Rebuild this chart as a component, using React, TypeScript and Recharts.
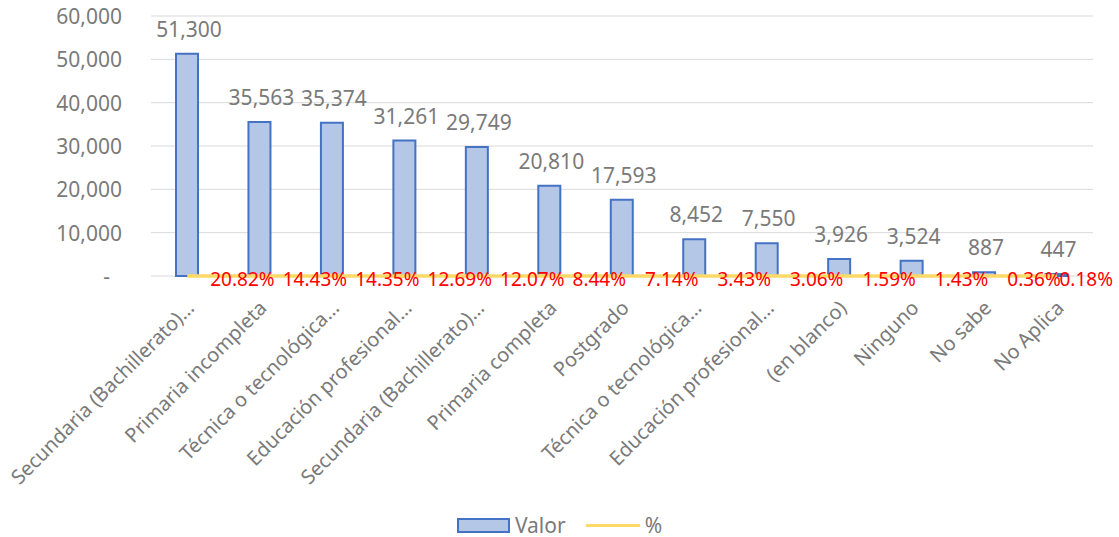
import {
  Bar,
  CartesianGrid,
  ComposedChart,
  LabelList,
  Legend,
  Line,
  XAxis,
  YAxis,
} from "recharts";

const categories = [
  "Secundaria (Bachillerato)…",
  "Primaria incompleta",
  "Técnica o tecnológica…",
  "Educación profesional…",
  "Secundaria (Bachillerato)…",
  "Primaria completa",
  "Postgrado",
  "Técnica o tecnológica…",
  "Educación profesional…",
  "(en blanco)",
  "Ninguno",
  "No sabe",
  "No Aplica",
];
const valor = [51300, 35563, 35374, 31261, 29749, 20810, 17593, 8452, 7550, 3926, 3524, 887, 447];
const pct = [20.82, 14.43, 14.35, 12.69, 12.07, 8.44, 7.14, 3.43, 3.06, 1.59, 1.43, 0.36, 0.18];
const yTicks = [0, 10000, 20000, 30000, 40000, 50000, 60000];

const data = categories.map((name, i) => ({ name, valor: valor[i], pct: pct[i] }));

const W = 1119;
const H = 537;
const FONT = "'Noto Sans', sans-serif";
const GRAY = "#7a7a7a";
const BAR_FILL = "#B4C7E7";
const BAR_STROKE = "#4472C4";
const LINE = "#FFD966";

let ctx: CanvasRenderingContext2D | null = null;
function textWidth(s: string, size: number) {
  if (!ctx) ctx = document.createElement("canvas").getContext("2d");
  if (!ctx) return s.length * size * 0.55;
  ctx.font = `${size}px 'Noto Sans'`;
  return ctx.measureText(s).width;
}

function YTick({ x, y, payload }: any) {
  const v = payload.value as number;
  return (
    <text
      x={v === 0 ? x - 12 : x}
      y={y}
      textAnchor="end"
      dominantBaseline="central"
      fontSize={21}
      fontFamily={FONT}
      fill={GRAY}
    >
      {v === 0 ? "-" : v.toLocaleString("en-US")}
    </text>
  );
}

function XTick({ x, y, payload }: any) {
  return (
    <text
      transform={`translate(${x + 3},${y + 20}) rotate(-45)`}
      textAnchor="end"
      dominantBaseline="central"
      fontSize={20}
      fontFamily={FONT}
      fill={GRAY}
    >
      {payload.value}
    </text>
  );
}

function ValueLabel(props: any) {
  const { x, y, width, value } = props;
  return (
    <text
      x={x + width / 2 + 2}
      y={y - 17}
      textAnchor="middle"
      fontSize={21}
      fontFamily={FONT}
      fill={GRAY}
    >
      {Number(value).toLocaleString("en-US")}
    </text>
  );
}

function PctLabel(props: any) {
  const { x, y, value } = props;
  const s = `${Number(value).toFixed(2)}%`;
  const w = textWidth(s, 19);
  const left = Math.min(x + 23, W - 6 - w);
  return (
    <text
      x={left}
      y={y + 3}
      textAnchor="start"
      dominantBaseline="central"
      fontSize={19}
      fontFamily={FONT}
      fill="#FF0000"
    >
      {s}
    </text>
  );
}

function LegendBox() {
  return (
    <div
      style={{
        display: "flex",
        justifyContent: "center",
        alignItems: "center",
        height: 30,
        paddingTop: 6,
        boxSizing: "border-box",
        fontFamily: FONT,
        fontSize: 21,
        color: GRAY,
      }}
    >
      <span
        style={{
          width: 49,
          height: 11,
          background: BAR_FILL,
          border: `2px solid ${BAR_STROKE}`,
          marginRight: 5,
        }}
      />
      <span>Valor</span>
      <span style={{ width: 54, height: 3, background: LINE, marginLeft: 20, marginRight: 5 }} />
      <span>%</span>
    </div>
  );
}

export default function App() {
  return (
    <div style={{ position: "absolute", left: 0, top: 0, width: W, height: H, background: "#fff", fontFamily: FONT }}>
      <ComposedChart width={W} height={H} data={data} margin={{ top: 16, right: 26, bottom: 0, left: 0 }}>
        <CartesianGrid vertical={false} stroke="#D9D9D9" strokeWidth={1} />
        <XAxis
          dataKey="name"
          interval={0}
          tickLine={false}
          axisLine={false}
          height={231}
          tick={<XTick />}
        />
        <YAxis
          width={151}
          domain={[0, 60000]}
          ticks={yTicks}
          tickLine={false}
          axisLine={false}
          tickSize={0}
          tickMargin={29}
          tick={<YTick />}
        />
        <Legend
          verticalAlign="bottom"
          content={<LegendBox />}
          wrapperStyle={{ height: 30, width: W, left: 0 }}
        />
        <Bar
          dataKey="valor"
          name="Valor"
          barSize={22}
          fill={BAR_FILL}
          stroke={BAR_STROKE}
          strokeWidth={2}
          isAnimationActive={false}
        >
          <LabelList dataKey="valor" content={<ValueLabel />} />
        </Bar>
        <Line
          dataKey="pct"
          name="%"
          type="linear"
          stroke={LINE}
          strokeWidth={3.5}
          dot={false}
          isAnimationActive={false}
        >
          <LabelList dataKey="pct" content={<PctLabel />} />
        </Line>
      </ComposedChart>
    </div>
  );
}
